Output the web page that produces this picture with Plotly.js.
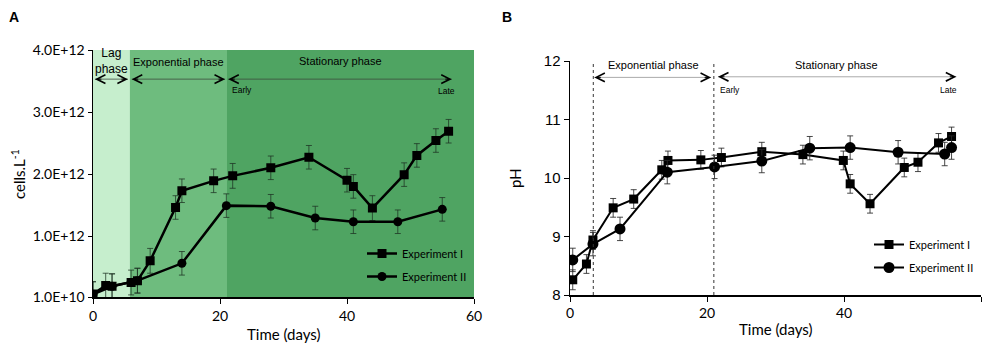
<!DOCTYPE html>
<html><head><meta charset="utf-8">
<script src="https://cdn.plot.ly/plotly-3.0.1.min.js"></script>
<style>html,body{margin:0;padding:0;background:#fff}#chart{width:987px;height:343px}</style>
</head><body><div id="chart"></div>
<script>
// Panel A: cell counts (cells/L)
const daysA1 = [0, 2, 3, 6, 7, 9, 13, 14, 19, 22, 28, 34, 40, 41, 44, 49, 51, 54, 56];
const cellsA1 = [6.5e10, 2.0e11, 1.9e11, 2.5e11, 2.8e11, 6.0e11, 1.46e12, 1.73e12, 1.89e12, 1.97e12, 2.10e12, 2.27e12, 1.90e12, 1.80e12, 1.45e12, 1.99e12, 2.30e12, 2.54e12, 2.69e12];
const errA1 = [2.0e11, 2.0e11, 2.0e11, 2.0e11, 2.0e11, 2.0e11, 1.9e11, 1.9e11, 1.9e11, 2.0e11, 1.9e11, 1.9e11, 1.9e11, 1.9e11, 2.0e11, 1.9e11, 1.9e11, 1.9e11, 1.9e11];
const daysA2 = [0, 3, 7, 14, 21, 28, 35, 41, 48, 55];
const cellsA2 = [6.0e10, 1.9e11, 2.8e11, 5.6e11, 1.49e12, 1.48e12, 1.29e12, 1.23e12, 1.23e12, 1.43e12];
const errA2 = [2.0e11, 2.0e11, 2.0e11, 1.9e11, 1.9e11, 1.9e11, 1.9e11, 1.9e11, 1.9e11, 1.9e11];
const yTickValsA = [1e10, 1e12, 2e12, 3e12, 4e12];
const yTickTextA = ["1.0E+10", "1.0E+12", "2.0E+12", "3.0E+12", "4.0E+12"];

// Panel B: pH
const daysB1 = [0.4, 2.4, 3.35, 6.3, 9.3, 13.4, 14.3, 19.1, 22.1, 28, 34, 39.9, 40.9, 43.8, 48.8, 50.8, 53.8, 55.7];
const phB1 = [8.26, 8.53, 8.94, 9.49, 9.64, 10.14, 10.30, 10.31, 10.35, 10.45, 10.40, 10.30, 9.90, 9.56, 10.18, 10.27, 10.60, 10.71];
const errB1 = [0.17, 0.16, 0.16, 0.16, 0.16, 0.16, 0.16, 0.16, 0.16, 0.16, 0.16, 0.16, 0.16, 0.16, 0.16, 0.16, 0.16, 0.16];
const daysB2 = [0.4, 3.35, 7.3, 14.2, 21.1, 28, 35, 40.9, 47.9, 54.7, 55.7];
const phB2 = [8.60, 8.87, 9.13, 10.10, 10.19, 10.29, 10.51, 10.52, 10.44, 10.41, 10.52];
const errB2 = [0.2, 0.2, 0.2, 0.2, 0.2, 0.2, 0.2, 0.2, 0.2, 0.2, 0.2];

const seriesNames = ["Experiment I", "Experiment II"];
const axisTitles = {time: "Time (days)", cells: "cells.L<sup>-1</sup>", ph: "pH"};

const W = 987, H = 343;
const px = v => v / W, py = v => 1 - v / H;

const errStyleA = {type: 'data', color: 'rgba(30,50,35,0.75)', thickness: 1, width: 3};
const errStyleB = {type: 'data', color: 'rgba(40,40,40,0.85)', thickness: 1, width: 3};

const traces = [
  {x: daysA1, y: cellsA1, name: seriesNames[0], xaxis: 'x', yaxis: 'y', mode: 'lines+markers',
   line: {color: '#000', width: 2.5}, marker: {symbol: 'square', size: 9, color: '#000'},
   error_y: Object.assign({array: errA1}, errStyleA), legend: 'legend', legendgroup: 'a1'},
  {x: daysA2, y: cellsA2, name: seriesNames[1], xaxis: 'x', yaxis: 'y', mode: 'lines+markers',
   line: {color: '#000', width: 2.5}, marker: {symbol: 'circle', size: 9, color: '#000'},
   error_y: Object.assign({array: errA2}, errStyleA), legend: 'legend', legendgroup: 'a2'},
  {x: daysB1, y: phB1, name: seriesNames[0], xaxis: 'x2', yaxis: 'y2', mode: 'lines+markers',
   line: {color: '#000', width: 2}, marker: {symbol: 'square', size: 9, color: '#000'},
   error_y: Object.assign({array: errB1}, errStyleB), legend: 'legend2', legendgroup: 'b1'},
  {x: daysB2, y: phB2, name: seriesNames[1], xaxis: 'x2', yaxis: 'y2', mode: 'lines+markers',
   line: {color: '#000', width: 2}, marker: {symbol: 'circle', size: 11, color: '#000'},
   error_y: Object.assign({array: errB2}, errStyleB), legend: 'legend2', legendgroup: 'b2'}
];

const tickFont = {family: 'Lato, "Open Sans", sans-serif', size: 14, color: '#000'};
const titleFont = {family: 'Lato, "Open Sans", sans-serif', size: 15, color: '#000'};
const legendFont = {family: 'Lato, "Open Sans", sans-serif', size: 11, color: '#000'};
const arialF = (s) => ({family: '"Liberation Sans", Arial, sans-serif', size: s, color: '#000'});

const shapes = [
  // Panel A phase bands
  {type: 'rect', xref: 'x', yref: 'y domain', x0: 0, x1: 5.8, y0: 0, y1: 1, fillcolor: '#c6eecd', line: {width: 0}, layer: 'below'},
  {type: 'rect', xref: 'x', yref: 'y domain', x0: 5.8, x1: 21.1, y0: 0, y1: 1, fillcolor: '#6ebc7e', line: {width: 0}, layer: 'below'},
  {type: 'rect', xref: 'x', yref: 'y domain', x0: 21.1, x1: 60, y0: 0, y1: 1, fillcolor: '#4fa462', line: {width: 0}, layer: 'below'},
  // Panel A arrow lines
  {type: 'line', xref: 'x', yref: 'y', x0: 0.3, x1: 5.5, y0: 3.53e12, y1: 3.53e12, line: {color: '#3c4a3e', width: 0.8}},
  {type: 'line', xref: 'x', yref: 'y', x0: 6.1, x1: 20.8, y0: 3.53e12, y1: 3.53e12, line: {color: '#3c4a3e', width: 0.8}},
  {type: 'line', xref: 'x', yref: 'y', x0: 21.3, x1: 56.5, y0: 3.53e12, y1: 3.53e12, line: {color: '#3c4a3e', width: 0.8}},
  // Panel B dotted phase boundaries
  {type: 'line', xref: 'x2', yref: 'y2', x0: 3.4, x1: 3.4, y0: 8, y1: 12, line: {color: '#333', width: 1, dash: 'dot'}},
  {type: 'line', xref: 'x2', yref: 'y2', x0: 21, x1: 21, y0: 8, y1: 12, line: {color: '#333', width: 1, dash: 'dot'}},
  // Panel B arrow lines
  {type: 'line', xref: 'x2', yref: 'y2', x0: 3.55, x1: 20.6, y0: 11.72, y1: 11.72, line: {color: '#aaa', width: 1}},
  {type: 'line', xref: 'x2', yref: 'y2', x0: 21.6, x1: 56.4, y0: 11.73, y1: 11.73, line: {color: '#aaa', width: 1}}
];

function head(xr, yr, x, y, dir, col) {
  return {xref: xr, yref: yr, x: x, y: y, ax: -dir * 7, ay: 0, text: '', showarrow: true,
          font: {size: 1}, borderpad: 0,
          arrowhead: 5, arrowsize: 1.7, arrowwidth: 1, arrowcolor: col || '#000'};
}
function txt(xr, yr, x, y, t, f) {
  return {xref: xr, yref: yr, x: x, y: y, text: t, showarrow: false, font: f, xanchor: 'center', yanchor: 'middle'};
}

const annotations = [
  {xref: 'paper', yref: 'paper', x: px(14), y: py(17), text: '<b>A</b>', showarrow: false, font: arialF(14), xanchor: 'center', yanchor: 'middle'},
  {xref: 'paper', yref: 'paper', x: px(507), y: py(17), text: '<b>B</b>', showarrow: false, font: arialF(14), xanchor: 'center', yanchor: 'middle'},
  // axis titles
  {xref: 'paper', yref: 'paper', x: px(283.5), y: py(334), text: axisTitles.time, showarrow: false, font: titleFont, xanchor: 'center', yanchor: 'middle'},
  {xref: 'paper', yref: 'paper', x: px(776), y: py(329), text: axisTitles.time, showarrow: false, font: titleFont, xanchor: 'center', yanchor: 'middle'},
  {xref: 'paper', yref: 'paper', x: px(18), y: py(174), text: axisTitles.cells, textangle: -90, showarrow: false, font: titleFont, xanchor: 'center', yanchor: 'middle'},
  {xref: 'paper', yref: 'paper', x: px(515), y: py(178), text: axisTitles.ph, textangle: -90, showarrow: false, font: titleFont, xanchor: 'center', yanchor: 'middle'},
  // Panel A
  txt('x', 'y', 2.85, 3.83e12, 'Lag<br>phase', arialF(12)),
  txt('x', 'y', 13.4, 3.81e12, 'Exponential phase', arialF(11)),
  txt('x', 'y', 38.9, 3.82e12, 'Stationary phase', arialF(11)),
  txt('x', 'y', 23.4, 3.35e12, 'Early', arialF(8.5)),
  txt('x', 'y', 55.7, 3.34e12, 'Late', arialF(8.5)),
  head('x', 'y', 0.3, 3.53e12, -1), head('x', 'y', 5.5, 3.53e12, 1),
  head('x', 'y', 6.1, 3.53e12, -1), head('x', 'y', 20.8, 3.53e12, 1),
  head('x', 'y', 21.3, 3.53e12, -1), head('x', 'y', 56.5, 3.53e12, 1),
  // Panel B
  txt('x2', 'y2', 12.2, 11.93, 'Exponential phase', arialF(11)),
  txt('x2', 'y2', 38.9, 11.94, 'Stationary phase', arialF(11)),
  txt('x2', 'y2', 23.3, 11.5, 'Early', arialF(8.5)),
  txt('x2', 'y2', 55.2, 11.5, 'Late', arialF(8.5)),
  head('x2', 'y2', 3.55, 11.72, -1), head('x2', 'y2', 20.6, 11.72, 1),
  head('x2', 'y2', 21.6, 11.73, -1), head('x2', 'y2', 56.4, 11.73, 1)
];

const layout = {
  width: W, height: H,
  margin: {l: 0, r: 0, t: 0, b: 0},
  paper_bgcolor: '#fff', plot_bgcolor: 'rgba(0,0,0,0)',
  showlegend: true,
  xaxis: {domain: [px(93), px(474)], range: [0, 60], tickvals: [0, 20, 40, 60], ticks: 'outside', ticklen: 5,
          tickcolor: '#000', showline: true, linecolor: '#000', linewidth: 1.5, showgrid: false, zeroline: false,
          tickfont: tickFont, anchor: 'y'},
  yaxis: {domain: [py(297.4), py(50)], range: [1e10, 4e12], tickvals: yTickValsA, ticktext: yTickTextA,
          ticks: 'outside', ticklen: 4, tickcolor: '#000', showline: true, linecolor: '#000', linewidth: 1.5,
          showgrid: false, zeroline: false, tickfont: tickFont, anchor: 'x'},
  xaxis2: {domain: [px(570), px(981)], range: [0, 60], tickvals: [0, 20, 40, 60], ticks: 'outside', ticklen: 5,
           tickcolor: '#000', showline: true, linecolor: '#000', linewidth: 1.5, showgrid: false, zeroline: false,
           tickfont: tickFont, anchor: 'y2'},
  yaxis2: {domain: [py(295), py(61)], range: [8, 12], tickvals: [8, 9, 10, 11, 12], ticks: 'outside', ticklen: 5,
           tickcolor: '#000', showline: true, linecolor: '#000', linewidth: 1.5, showgrid: false, zeroline: false,
           tickfont: arialF(15), anchor: 'x2'},
  legend: {x: px(362), y: py(239), xanchor: 'left', yanchor: 'top', bgcolor: 'rgba(0,0,0,0)',
           font: legendFont, traceorder: 'grouped', tracegroupgap: 4},
  legend2: {x: px(869), y: py(230), xanchor: 'left', yanchor: 'top', bgcolor: 'rgba(0,0,0,0)',
            font: legendFont, traceorder: 'grouped', tracegroupgap: 4},
  shapes: shapes,
  annotations: annotations
};

Plotly.newPlot('chart', traces, layout, {displayModeBar: false, staticPlot: true});
</script>
</body></html>
